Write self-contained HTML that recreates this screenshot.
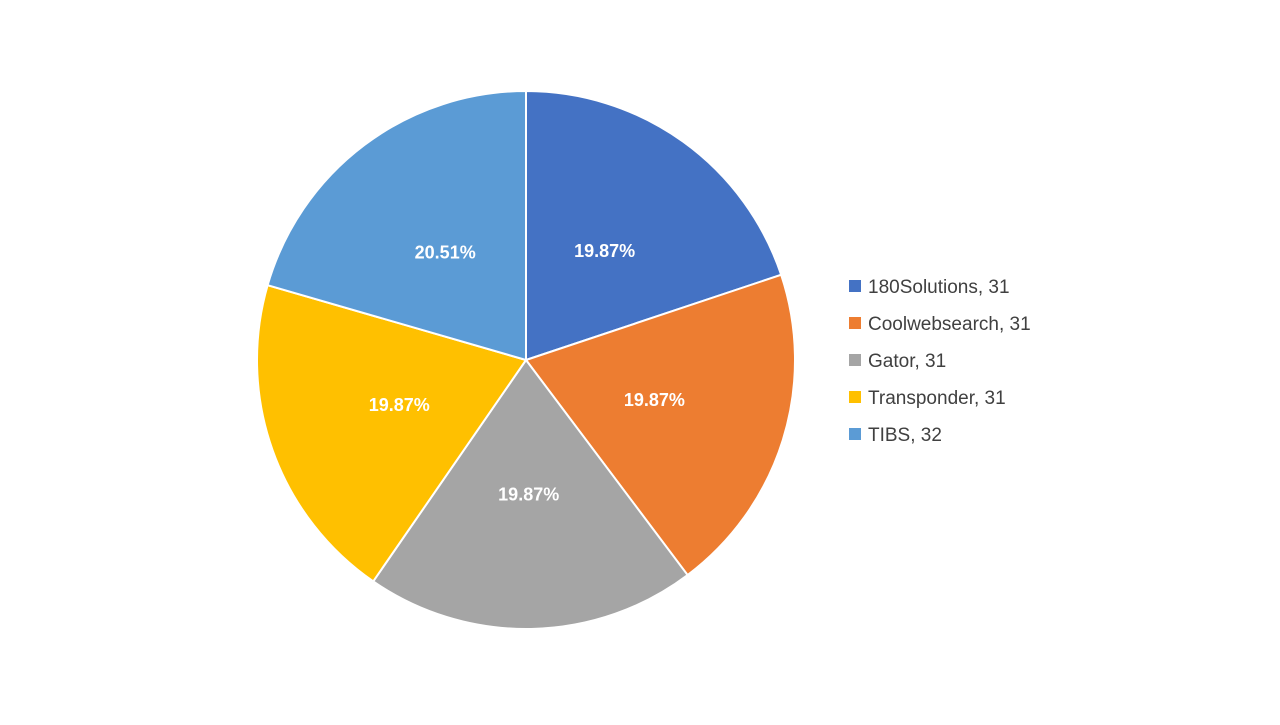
<!DOCTYPE html>
<html><head><meta charset="utf-8"><style>
body{margin:0;width:1280px;height:720px;background:#fff;overflow:hidden;font-family:"Liberation Sans",sans-serif}
</style></head><body>
<svg id="chart" width="1280" height="720" xmlns="http://www.w3.org/2000/svg"></svg>
<script>
const categories=["180Solutions","Coolwebsearch","Gator","Transponder","TIBS"];
const values=[31,31,31,31,32];
const colors=["#4472C4","#ED7D31","#A5A5A5","#FFC000","#5B9BD5"];
const svg=document.getElementById('chart');
const NS="http://www.w3.org/2000/svg";
const cx=526,cy=360,r=269;
const total=values.reduce((a,b)=>a+b,0);
function pt(a,rad){return [cx+rad*Math.sin(a),cy-rad*Math.cos(a)];}
let start=0;
values.forEach((v,i)=>{
  const sw=v/total*2*Math.PI,end=start+sw;
  const [x1,y1]=pt(start,r),[x2,y2]=pt(end,r);
  const p=document.createElementNS(NS,'path');
  p.setAttribute('d',`M${cx},${cy} L${x1},${y1} A${r},${r} 0 ${sw>Math.PI?1:0} 1 ${x2},${y2} Z`);
  p.setAttribute('fill',colors[i]);p.setAttribute('stroke','#fff');p.setAttribute('stroke-width','2');
  
  
  svg.appendChild(p);
  const [lx,ly]=pt(start+sw/2,r*0.5);
  const t=document.createElementNS(NS,'text');
  t.setAttribute('x',lx);t.setAttribute('y',ly+6);t.setAttribute('text-anchor','middle');
  t.setAttribute('fill','#fff');t.setAttribute('font-size','18');t.setAttribute('font-weight','bold');
  t.setAttribute('font-family','Liberation Sans, sans-serif');
  t.textContent=(v/total*100).toFixed(2)+'%';
  
  
  svg.appendChild(t);
  start=end;
});
categories.forEach((c,i)=>{
  const y=286+i*37;
  const g=document.createElementNS(NS,'g');
  
  
  const s=document.createElementNS(NS,'rect');
  s.setAttribute('x',849);s.setAttribute('y',y-6);s.setAttribute('width',12);s.setAttribute('height',12);
  s.setAttribute('fill',colors[i]);
  g.appendChild(s);
  const t=document.createElementNS(NS,'text');
  t.setAttribute('x',868);t.setAttribute('y',y+7);t.setAttribute('font-size','19');
  t.setAttribute('fill','#404040');t.setAttribute('font-family','Liberation Sans, sans-serif');
  t.textContent=c+', '+values[i];
  g.appendChild(t);
  svg.appendChild(g);
});
</script>
</body></html>
